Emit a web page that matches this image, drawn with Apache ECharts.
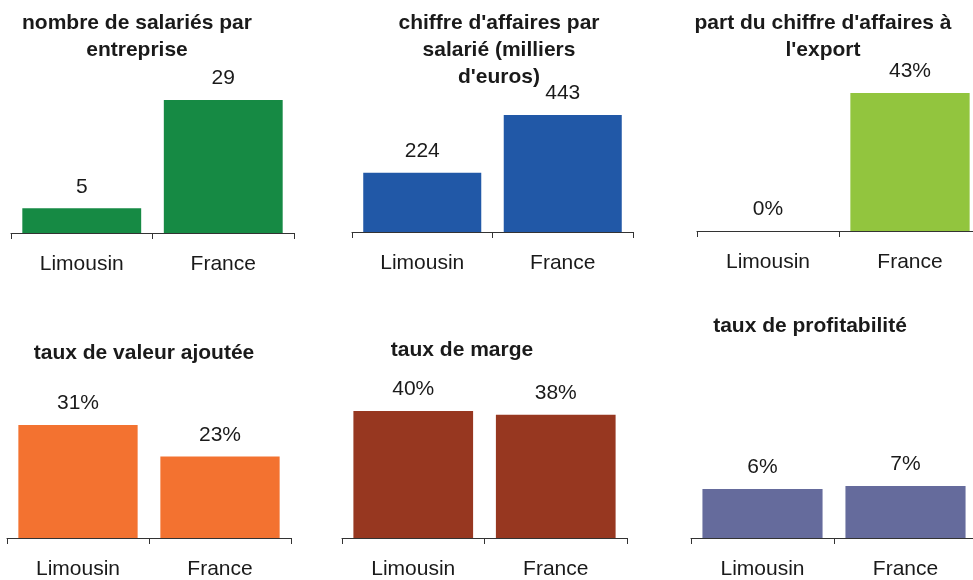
<!DOCTYPE html>
<html>
<head>
<meta charset="utf-8">
<title>Limousin / France</title>
<script src="https://cdn.jsdelivr.net/npm/echarts@6/dist/echarts.min.js"></script>
<style>
    html, body { margin: 0; padding: 0; background: #fff; overflow: hidden; width: 973px; height: 580px; }
    #chart { width: 990px; height: 580px; }
</style>
</head>
<body>
<div id="chart"></div>
<script>
// données
var categories = ['Limousin', 'France'];
var titles = [
    'nombre de salariés par\nentreprise',
    'chiffre d\'affaires par\nsalarié (milliers\nd\'euros)',
    'part du chiffre d\'affaires à\nl\'export',
    'taux de valeur ajoutée',
    'taux de marge',
    'taux de profitabilité'
];
var salaries = [5.4, 29];
var caSalarie = [224, 443];
var partExport = [0, 43];
var valeurAjoutee = [31.3, 22.6];
var marge = [39.6, 38.4];
var profitabilite = [6.4, 6.8];
var suffixes = ['', '', '%', '%', '%', '%'];

(function (win) {
    // le conteneur dépasse un peu à droite : les deux panneaux de droite sont coupés
    var chart = echarts.init(document.getElementById('chart'));
    var font = '"Liberation Sans", Arial, sans-serif';
    var textColor = '#1a1a1a';
    var values = [salaries, caSalarie, partExport, valeurAjoutee, marge, profitabilite];
    var colors = ['#168a44', '#2158a7', '#92c53e', '#f37230', '#973720', '#656b9c'];

    //position: gauche, largeur, axe y, hauteur du max
    var panels = [
        { left: 11, width: 283, axisY: 233, height: 133, titleX: 137, titleY: 10 },
        { left: 352, width: 281, axisY: 232, height: 117, titleX: 499, titleY: 10 },
        { left: 697, width: 284, axisY: 231, height: 138, titleX: 823, titleY: 10 },
        { left: 7, width: 284, axisY: 539, height: 114, titleX: 144, titleY: 340 },
        { left: 342, width: 285, axisY: 539, height: 128, titleX: 462, titleY: 337 },
        { left: 691, width: 286, axisY: 539, height: 53, titleX: 810, titleY: 313 }
    ];

    var grid = [], xAxis = [], yAxis = [], series = [], title = [];

    for (var i = 0; i < panels.length; i++) {
        var p = panels[i];
        var suffix = suffixes[i];

        title.push({
            text: titles[i],
            left: p.titleX,
            top: p.titleY,
            textAlign: 'center',
            padding: 0,
            textStyle: {
                fontFamily: font,
                fontSize: 21,
                fontWeight: 'bold',
                color: textColor,
                lineHeight: 27
            }
        });

        grid.push({
            left: p.left,
            top: p.axisY - p.height,
            width: p.width,
            height: p.height,
            containLabel: false
        });

        xAxis.push({
            type: 'category',
            gridIndex: i,
            data: categories,
            axisLine: { lineStyle: { color: '#333', width: 1 } },
            axisTick: { show: true, length: 6, lineStyle: { color: '#333' } },
            axisLabel: {
                margin: 21,
                fontFamily: font,
                fontSize: 21,
                color: textColor
            }
        });

        yAxis.push({
            type: 'value',
            gridIndex: i,
            min: 0,
            max: Math.max.apply(null, values[i]),
            show: false
        });

        series.push({
            type: 'bar',
            xAxisIndex: i,
            yAxisIndex: i,
            data: values[i],
            barWidth: '84%',
            silent: true,
            itemStyle: { color: colors[i] },
            label: {
                show: true,
                position: 'top',
                distance: 11,
                fontFamily: font,
                fontSize: 21,
                color: textColor,
                formatter: (function (sfx) {
                    return function (param) {
                        return Math.round(param.value) + sfx;
                    };
                })(suffix)
            }
        });
    }

    chart.setOption({
        animation: false,
        backgroundColor: '#fff',
        title: title,
        grid: grid,
        xAxis: xAxis,
        yAxis: yAxis,
        series: series
    });
})(this);
</script>
</body>
</html>
